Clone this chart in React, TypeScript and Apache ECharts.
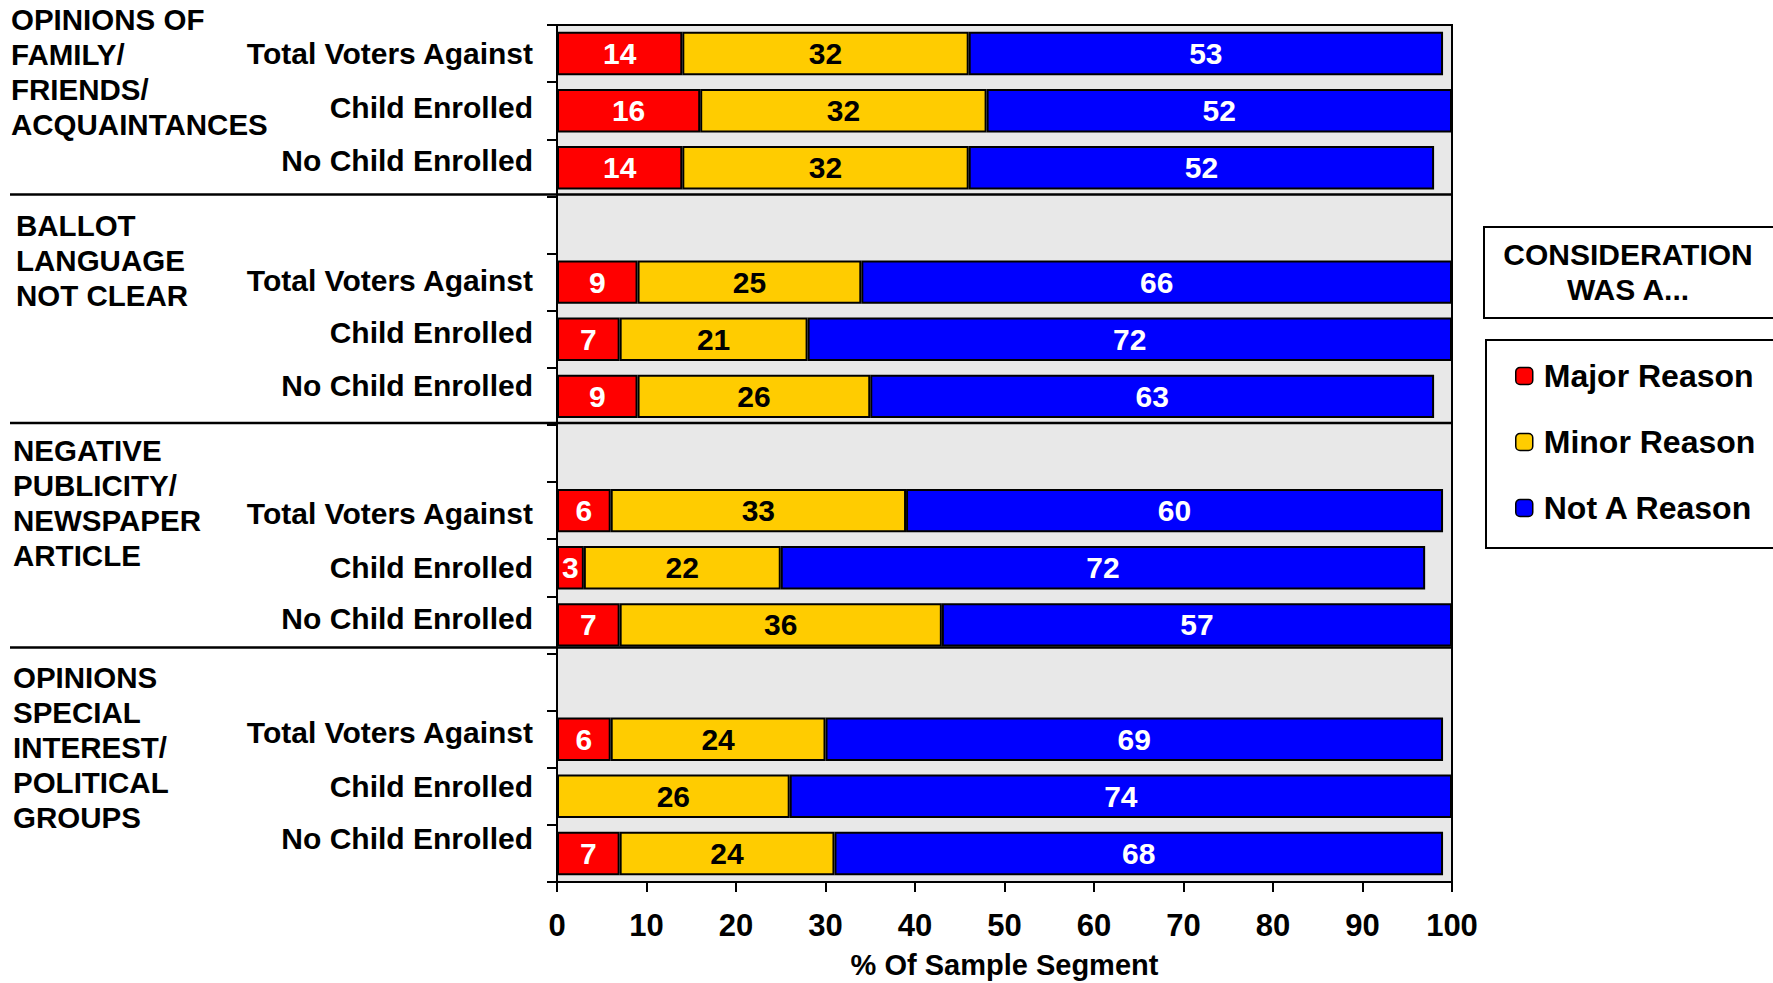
import React, { useEffect, useRef } from "react";
import * as echarts from "echarts";

// ---- data ----
const segmentLabels = [
  "Total Voters Against", "Child Enrolled", "No Child Enrolled", "",
  "Total Voters Against", "Child Enrolled", "No Child Enrolled", "",
  "Total Voters Against", "Child Enrolled", "No Child Enrolled", "",
  "Total Voters Against", "Child Enrolled", "No Child Enrolled",
];
const majorReason = [14, 16, 14, "-", 9, 7, 9, "-", 6, 3, 7, "-", 6, 0, 7];
const minorReason = [32, 32, 32, "-", 25, 21, 26, "-", 33, 22, 36, "-", 24, 26, 24];
const notAReason = [53, 52, 52, "-", 66, 72, 63, "-", 60, 72, 57, "-", 69, 74, 68];
const seriesNames = ["Major Reason", "Minor Reason", "Not A Reason"];
const xTicks = [0, 100, 10]; // min, max, interval
const groupLabels = [
  ["OPINIONS OF", "FAMILY/", "FRIENDS/", "ACQUAINTANCES"],
  ["BALLOT", "LANGUAGE", "NOT CLEAR"],
  ["NEGATIVE", "PUBLICITY/", "NEWSPAPER", "ARTICLE"],
  ["OPINIONS", "SPECIAL", "INTEREST/", "POLITICAL", "GROUPS"],
];
const legendTitle = "CONSIDERATION\nWAS A...";
const xAxisName = "% Of Sample Segment";

// ---- layout ----
const FONT = "'Liberation Sans', Arial, Helvetica, sans-serif";
const groupAnchor = [
  { slot: 0, dy: -34, x: 11 },
  { slot: 3, dy: 1, x: 16 },
  { slot: 7, dy: -3, x: 13 },
  { slot: 11, dy: -5, x: 13 },
];
const separatorSlots = [3, 7, 11];
const separatorShift = [-2, -2, -6];
// upward shift (px) of each y-axis label
const labelLift = [0, 3, 7, 0, 2, 7, 11, 0, -3, 0, 6, 0, 7, 10, 15];

export default function App() {
  const ref = useRef<HTMLDivElement>(null);
  useEffect(() => {
    document.body.style.margin = "0";
    const chart = echarts.init(ref.current!, null, { renderer: "svg" });
    const mkSeries = (name: string, data: any[], color: string, labelColor: string) => ({
      name,
      type: "bar",
      stack: "total",
      data,
      barCategoryGap: "24%",
      itemStyle: { color, borderColor: "#000", borderWidth: 2 },
      label: {
        show: true,
        position: "inside",
        color: labelColor,
        fontSize: 30,
        fontWeight: "bold",
        fontFamily: FONT,
        formatter: (p: any) => (p.value === 0 ? "" : String(p.value)),
      },
    });
    const rich: Record<string, any> = {};
    labelLift.forEach((l, i) => {
      rich["r" + i] = {
        color: "#000",
        fontSize: 30,
        fontWeight: "bold",
        fontFamily: FONT,
        padding: l >= 0 ? [0, 0, 2 * l, 0] : [-2 * l, 0, 0, 0],
      };
    });
    chart.setOption({
      animation: false,
      backgroundColor: "#fff",
      textStyle: { fontFamily: FONT },
      grid: {
        left: 557,
        right: 321,
        top: 25,
        bottom: 101,
        show: true,
        backgroundColor: "#e8e8e8",
        borderColor: "#000",
        borderWidth: 2,
        containLabel: false,
        outerBoundsMode: "none",
      },
      xAxis: {
        type: "value",
        min: xTicks[0],
        max: xTicks[1],
        interval: xTicks[2],
        splitLine: { show: false },
        axisLine: { show: true, lineStyle: { color: "#000", width: 2 } },
        axisTick: { show: true, length: 10, lineStyle: { color: "#000", width: 2 } },
        axisLabel: {
          color: "#000",
          fontSize: 31,
          fontWeight: "bold",
          fontFamily: FONT,
          margin: 28,
        },
        name: xAxisName,
        nameLocation: "middle",
        nameGap: 68,
        nameTextStyle: { color: "#000", fontSize: 29, fontWeight: "bold", fontFamily: FONT },
      },
      yAxis: {
        type: "category",
        inverse: true,
        data: segmentLabels,
        axisLine: { show: true, lineStyle: { color: "#000", width: 2 } },
        axisTick: { show: true, length: 10, lineStyle: { color: "#000", width: 2 } },
        axisLabel: {
          color: "#000",
          fontSize: 30,
          fontWeight: "bold",
          fontFamily: FONT,
          margin: 24,
          interval: 0,
          formatter: (v: string, i: number) => (v ? `{r${i}|${v}}` : ""),
          rich,
        },
        splitLine: { show: false },
      },
      legend: {
        orient: "vertical",
        left: 1486,
        top: 340,
        padding: [20, 40, 24, 29],
        itemGap: 34,
        itemWidth: 17,
        itemHeight: 17,
        borderColor: "#000",
        borderWidth: 2,
        backgroundColor: "#fff",
        data: seriesNames,
        itemStyle: { borderColor: "#000", borderWidth: 1.5 },
        textStyle: {
          color: "#000",
          fontSize: 32,
          fontWeight: "bold",
          fontFamily: FONT,
          lineHeight: 30,
          padding: [0, 0, 0, 6],
        },
      },
      series: [
        mkSeries(seriesNames[0], majorReason, "#ff0000", "#fff"),
        mkSeries(seriesNames[1], minorReason, "#ffcc00", "#000"),
        mkSeries(seriesNames[2], notAReason, "#0000ff", "#fff"),
      ],
    });

    const yPix = (i: number) => chart.convertToPixel({ yAxisIndex: 0 }, i) as number;
    const xRight = chart.convertToPixel({ xAxisIndex: 0 }, xTicks[1]) as number;
    const graphics: any[] = [];
    separatorSlots.forEach((s, k) => {
      const y = (yPix(s - 1) + yPix(s)) / 2 + separatorShift[k];
      graphics.push({
        type: "line",
        z: 100,
        shape: { x1: 10, y1: y, x2: xRight, y2: y },
        style: { stroke: "#000", lineWidth: 2.5 },
      });
    });
    groupLabels.forEach((lines, gi) => {
      const a = groupAnchor[gi];
      const firstCenter = yPix(a.slot) + a.dy;
      graphics.push({
        type: "text",
        z: 100,
        x: a.x,
        y: firstCenter - 17.5,
        style: {
          text: lines.join("\n"),
          fill: "#000",
          fontSize: 29.5,
          fontWeight: "bold",
          fontFamily: FONT,
          lineHeight: 35,
          align: "left",
          verticalAlign: "top",
        },
      });
    });
    graphics.push({
      type: "rect",
      z: 100,
      shape: { x: 1484, y: 227, width: 300, height: 91 },
      style: { fill: "#fff", stroke: "#000", lineWidth: 2 },
    });
    graphics.push({
      type: "text",
      z: 101,
      x: 1628,
      y: 272,
      style: {
        text: legendTitle,
        fill: "#000",
        fontSize: 30,
        fontWeight: "bold",
        fontFamily: FONT,
        lineHeight: 35,
        align: "center",
        verticalAlign: "middle",
      },
    });
    chart.setOption({ graphic: graphics });

    return () => chart.dispose();
  }, []);
  return (
    <div
      ref={ref}
      style={{ position: "absolute", left: 0, top: 0, width: 1773, height: 983 }}
    />
  );
}
